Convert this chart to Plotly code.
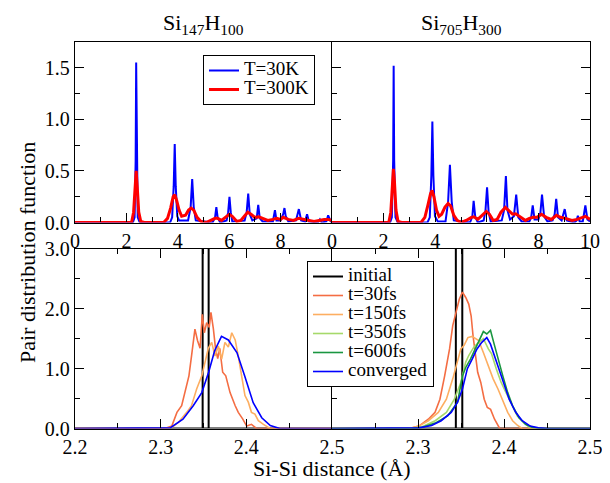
import plotly.graph_objects as go

FONT = "Liberation Serif, Times New Roman, serif"

# ---------------- data ----------------
# Top panels: pair distribution function, x = r (Angstrom)
si147_t30 = [(0, 0), (2.25, 0), (2.32, 0.05), (2.36, 0.60), (2.38, 1.55), (2.40, 0.60), (2.44, 0.05), (2.52, 0),
             (3.70, 0), (3.78, 0.05), (3.84, 0.35), (3.88, 0.76), (3.92, 0.35), (3.98, 0.06), (4.05, 0.02),
             (4.40, 0.02), (4.50, 0.15), (4.56, 0.42), (4.62, 0.15), (4.70, 0.02), (5.35, 0), (5.45, 0.05),
             (5.50, 0.15), (5.55, 0.05), (5.65, 0), (5.90, 0.02), (5.96, 0.10), (6.01, 0.25), (6.06, 0.10),
             (6.12, 0.01), (6.60, 0.02), (6.68, 0.10), (6.74, 0.28), (6.80, 0.08), (6.90, 0.02), (7.07, 0.04),
             (7.13, 0.17), (7.19, 0.04), (7.30, 0.01), (7.70, 0.01), (7.78, 0.12), (7.84, 0.02), (8.00, 0.02),
             (8.10, 0.08), (8.15, 0.14), (8.20, 0.06), (8.30, 0.01), (8.60, 0.02), (8.71, 0.13), (8.80, 0.02),
             (8.95, 0.01), (9.03, 0.08), (9.10, 0.01), (9.45, 0), (9.53, 0.03), (9.60, 0), (9.78, 0.01),
             (9.85, 0.07), (9.95, 0.01), (10.0, 0)]
si147_t300 = [(0, 0), (2.20, 0), (2.28, 0.10), (2.34, 0.35), (2.38, 0.50), (2.42, 0.35), (2.48, 0.10), (2.56, 0.01),
              (2.70, 0), (3.45, 0), (3.60, 0.04), (3.72, 0.14), (3.82, 0.25), (3.88, 0.27), (3.95, 0.22),
              (4.05, 0.12), (4.15, 0.06), (4.30, 0.07), (4.42, 0.12), (4.52, 0.14), (4.62, 0.12), (4.75, 0.05),
              (4.90, 0.01), (5.10, 0.0), (5.30, 0.02), (5.45, 0.04), (5.55, 0.04), (5.70, 0.02), (5.85, 0.05),
              (6.00, 0.08), (6.12, 0.06), (6.30, 0.01), (6.45, 0.02), (6.60, 0.07), (6.72, 0.10), (6.85, 0.08),
              (7.00, 0.05), (7.15, 0.055), (7.30, 0.04), (7.50, 0.02), (7.70, 0.03), (7.85, 0.04), (8.00, 0.03),
              (8.10, 0.05), (8.30, 0.03), (8.50, 0.02), (8.70, 0.04), (8.90, 0.03), (9.10, 0.02), (9.30, 0.01),
              (9.50, 0.02), (9.70, 0.03), (9.85, 0.03), (10.0, 0.02)]
si705_t30 = [(0, 0), (2.25, 0), (2.32, 0.05), (2.37, 0.60), (2.39, 1.52), (2.41, 0.60), (2.46, 0.05), (2.55, 0),
             (3.70, 0), (3.79, 0.05), (3.85, 0.45), (3.89, 0.98), (3.93, 0.45), (3.99, 0.06), (4.10, 0.01),
             (4.40, 0.01), (4.50, 0.20), (4.57, 0.56), (4.64, 0.20), (4.72, 0.02), (5.35, 0), (5.44, 0.06),
             (5.49, 0.21), (5.55, 0.06), (5.65, 0), (5.88, 0.02), (5.95, 0.12), (6.01, 0.34), (6.07, 0.10),
             (6.15, 0.01), (6.58, 0.02), (6.67, 0.12), (6.74, 0.45), (6.80, 0.12), (6.90, 0.03), (7.05, 0.06),
             (7.14, 0.27), (7.22, 0.05), (7.35, 0.01), (7.65, 0.01), (7.72, 0.05), (7.78, 0.165), (7.85, 0.03),
             (8.00, 0.03), (8.08, 0.10), (8.14, 0.27), (8.22, 0.06), (8.35, 0.01), (8.55, 0.02), (8.63, 0.08),
             (8.69, 0.23), (8.76, 0.05), (8.90, 0.02), (9.02, 0.13), (9.10, 0.02), (9.40, 0), (9.48, 0.02),
             (9.53, 0.065), (9.60, 0.01), (9.72, 0.01), (9.82, 0.165), (9.90, 0.03), (10.0, 0.01)]
si705_t300 = [(0, 0), (2.20, 0), (2.28, 0.10), (2.34, 0.38), (2.38, 0.52), (2.42, 0.40), (2.48, 0.12), (2.56, 0.01),
              (2.70, 0), (3.45, 0), (3.60, 0.05), (3.72, 0.17), (3.82, 0.28), (3.88, 0.31), (3.95, 0.25),
              (4.05, 0.12), (4.15, 0.06), (4.25, 0.08), (4.38, 0.15), (4.50, 0.185), (4.60, 0.16), (4.72, 0.07),
              (4.85, 0.02), (5.00, 0.0), (5.20, 0.02), (5.40, 0.05), (5.50, 0.055), (5.65, 0.03), (5.82, 0.07),
              (5.98, 0.107), (6.10, 0.08), (6.25, 0.02), (6.40, 0.03), (6.55, 0.10), (6.72, 0.146), (6.88, 0.11),
              (7.00, 0.08), (7.12, 0.085), (7.30, 0.05), (7.50, 0.02), (7.65, 0.04), (7.80, 0.05), (7.95, 0.05),
              (8.12, 0.08), (8.30, 0.05), (8.50, 0.03), (8.70, 0.07), (8.85, 0.05), (9.05, 0.04), (9.30, 0.02),
              (9.50, 0.03), (9.70, 0.05), (9.82, 0.06), (10.0, 0.03)]

# Bottom panels: first-neighbour peak, x = Si-Si distance (Angstrom)
initial_height = 20.0
si147_initial_peaks = [2.349, 2.356]
si705_initial_peaks = [2.344, 2.3515]

si147_t30fs = [(2.2, 0), (2.305, 0), (2.313, 0.04), (2.319, 0.27), (2.3245, 0.38), (2.328, 0.57), (2.333, 0.88),
               (2.336, 1.21), (2.340, 1.66), (2.343, 1.47), (2.346, 1.34), (2.3486, 1.91), (2.351, 1.60),
               (2.3537, 1.77), (2.3567, 1.69), (2.3587, 1.94), (2.3615, 1.67), (2.364, 1.34), (2.3666, 1.17),
               (2.369, 1.34), (2.3724, 0.94), (2.376, 0.88), (2.381, 0.60), (2.387, 0.38), (2.3906, 0.27),
               (2.3957, 0.16), (2.4004, 0.04), (2.406, 0.07), (2.412, 0), (2.5, 0)]
si147_t150fs = [(2.2, 0), (2.31, 0), (2.315, 0.04), (2.3206, 0.10), (2.3304, 0.27), (2.336, 0.38), (2.342, 0.66),
                (2.348, 0.88), (2.3517, 1.10), (2.3556, 1.34), (2.3596, 1.44), (2.3634, 1.21), (2.3673, 1.38),
                (2.3712, 1.16), (2.375, 1.44), (2.379, 1.36), (2.383, 1.60), (2.387, 1.48), (2.3906, 1.21),
                (2.3945, 0.88), (2.3984, 0.55), (2.4023, 0.44), (2.406, 0.27), (2.410, 0.24), (2.414, 0.13),
                (2.420, 0.07), (2.4276, 0), (2.5, 0)]
si147_conv = [(2.2, 0), (2.30, 0), (2.311, 0.01), (2.326, 0.155), (2.338, 0.38), (2.348, 0.60), (2.356, 0.94),
              (2.363, 1.30), (2.371, 1.54), (2.379, 1.48), (2.389, 1.27), (2.398, 0.88), (2.408, 0.43),
              (2.418, 0.18), (2.428, 0.05), (2.439, 0.0), (2.5, 0)]

si705_t30fs = [(2.2, 0), (2.29, 0), (2.301, 0.04), (2.312, 0.155), (2.3198, 0.27), (2.3255, 0.49), (2.331, 0.88),
               (2.3367, 1.33), (2.3404, 1.72), (2.3443, 1.94), (2.348, 2.16), (2.3517, 2.28), (2.3555, 2.19),
               (2.359, 2.08), (2.3618, 1.88), (2.364, 1.55), (2.3668, 1.22), (2.3694, 0.94), (2.373, 0.77),
               (2.377, 0.49), (2.3806, 0.35), (2.3844, 0.32), (2.389, 0.155), (2.395, 0), (2.5, 0)]
si705_t150fs = [(2.2, 0), (2.29, 0), (2.301, 0.04), (2.312, 0.13), (2.3236, 0.27), (2.333, 0.49), (2.3404, 0.83),
                (2.346, 1.11), (2.3498, 1.33), (2.3536, 1.39), (2.358, 1.52), (2.3629, 1.54), (2.3667, 1.50),
                (2.3705, 1.47), (2.376, 1.27), (2.3818, 1.05), (2.3874, 0.83), (2.393, 0.66), (2.3986, 0.46),
                (2.4043, 0.27), (2.41, 0.13), (2.4155, 0.055), (2.421, 0), (2.5, 0)]
si705_t350fs = [(2.2, 0), (2.29, 0), (2.3048, 0.03), (2.32, 0.13), (2.333, 0.27), (2.3423, 0.49), (2.3498, 0.77),
                (2.3555, 1.11), (2.359, 1.22), (2.3649, 1.36), (2.3705, 1.44), (2.376, 1.50), (2.3818, 1.33),
                (2.3855, 1.25), (2.391, 1.00), (2.3967, 0.77), (2.4024, 0.60), (2.408, 0.44), (2.4155, 0.21),
                (2.423, 0.10), (2.4287, 0.03), (2.436, 0), (2.5, 0)]
si705_t600fs = [(2.2, 0), (2.29, 0), (2.305, 0.02), (2.32, 0.09), (2.3345, 0.21), (2.346, 0.44), (2.3517, 0.88),
                (2.3555, 1.02), (2.361, 1.16), (2.3667, 1.33), (2.3724, 1.52), (2.376, 1.62), (2.38, 1.58),
                (2.3843, 1.64), (2.388, 1.44), (2.393, 1.16), (2.3986, 0.88), (2.4043, 0.60), (2.41, 0.38),
                (2.4174, 0.18), (2.425, 0.07), (2.4324, 0.02), (2.4437, 0), (2.5, 0)]
si705_conv = [(2.2, 0), (2.29, 0), (2.301, 0.01), (2.3158, 0.05), (2.327, 0.13), (2.3386, 0.27), (2.346, 0.44),
              (2.3517, 0.66), (2.3574, 1.00), (2.363, 1.16), (2.3686, 1.33), (2.3742, 1.44), (2.38, 1.52),
              (2.3843, 1.41), (2.389, 1.22), (2.395, 0.97), (2.4006, 0.72), (2.406, 0.49), (2.4136, 0.27),
              (2.4212, 0.13), (2.4305, 0.04), (2.44, 0.01), (2.451, 0), (2.5, 0)]

top_titles = ["Si<sub>147</sub>H<sub>100</sub>", "Si<sub>705</sub>H<sub>300</sub>"]
temp_labels = ["T=30K", "T=300K"]
time_labels = ["initial", "t=30fs", "t=150fs", "t=350fs", "t=600fs", "converged"]
time_colors = ["#000000", "#f46d43", "#fdae61", "#a6d96a", "#1a9641", "#0000ff"]
top_xticks_left = [0, 2, 4, 6, 8]
top_xticks_right = [0, 2, 4, 6, 8, 10]
top_yticks = [0, 0.5, 1.0, 1.5]
top_yticktext = ["0.0", "0.5", "1.0", "1.5"]
bot_xticks_left = [2.2, 2.3, 2.4, 2.5]
bot_xticks_right = [2.3, 2.4, 2.5]
bot_yticks = [0, 1, 2, 3]
bot_yticktext = ["0.0", "1.0", "2.0", "3.0"]

# ---------------- figure ----------------
# the page body has an 8px margin, so the figure is drawn 8px in from the window's corner
OFF = 8
W, H = 610 - OFF, 483 - OFF


def px(x):
    return (x - OFF) / W


def py(y):
    return 1 - (y - OFF) / H


XL = [px(75), px(332)]
XR = [px(332), px(590)]
YT = [py(222.5), py(42)]
YB = [py(428.5), py(249)]


def xs(pts):
    return [p[0] for p in pts]


def ys(pts):
    return [p[1] for p in pts]


def initial_trace(peaks):
    x, y = [2.2], [0]
    for p in peaks:
        x += [p, p, p]
        y += [0, initial_height, 0]
    x.append(2.5)
    y.append(0)
    return x, y


def leg(txt):
    return '<span style="font-size:19px">' + txt + '</span>'


fig = go.Figure()

# top panels
for (t30, t300, xa, ya, show) in [(si147_t30, si147_t300, "x", "y", True),
                                   (si705_t30, si705_t300, "x2", "y2", False)]:
    fig.add_trace(go.Scatter(x=xs(t30), y=ys(t30), mode="lines", xaxis=xa, yaxis=ya,
                             line=dict(color="#0000ff", width=2), name=leg(temp_labels[0]),
                             showlegend=show, legend="legend"))
    fig.add_trace(go.Scatter(x=xs(t300), y=ys(t300), mode="lines", xaxis=xa, yaxis=ya,
                             line=dict(color="#ff0000", width=3), name=leg(temp_labels[1]),
                             showlegend=show, legend="legend"))

# bottom-left (Si147H100)
ix, iy = initial_trace(si147_initial_peaks)
left_series = [(ix, iy), (xs(si147_t30fs), ys(si147_t30fs)), (xs(si147_t150fs), ys(si147_t150fs)),
               None, None, (xs(si147_conv), ys(si147_conv))]
for i, s in enumerate(left_series):
    if s is None:
        continue
    fig.add_trace(go.Scatter(x=s[0], y=s[1], mode="lines", xaxis="x3", yaxis="y3",
                             line=dict(color=time_colors[i], width=2 if i == 0 else 1.6),
                             showlegend=False, name=time_labels[i]))

# bottom-right (Si705H300)
ix, iy = initial_trace(si705_initial_peaks)
right_series = [(ix, iy), (xs(si705_t30fs), ys(si705_t30fs)), (xs(si705_t150fs), ys(si705_t150fs)),
                (xs(si705_t350fs), ys(si705_t350fs)), (xs(si705_t600fs), ys(si705_t600fs)),
                (xs(si705_conv), ys(si705_conv))]
for i, s in enumerate(right_series):
    fig.add_trace(go.Scatter(x=s[0], y=s[1], mode="lines", xaxis="x4", yaxis="y4",
                             line=dict(color=time_colors[i], width=2 if i == 0 else 1.6),
                             showlegend=True, legend="legend2", name=leg(time_labels[i])))

tickfont = dict(family=FONT, size=20, color="black")


def axis(**kw):
    d = dict(showline=True, linecolor="black", linewidth=1.3, ticks="inside", ticklen=9,
             tickcolor="black", tickwidth=1.2, showgrid=False, zeroline=False, tickfont=tickfont,
             automargin=False, fixedrange=True)
    d.update(kw)
    return d


def minor(dt, t0):
    return dict(dtick=dt, tick0=t0, ticklen=5, ticks="inside", tickcolor="black", tickwidth=1.2,
                showgrid=False)


fig.update_layout(
    template="none",
    width=W, height=H, margin=dict(l=0, r=0, t=0, b=0, pad=0, autoexpand=False),
    paper_bgcolor="white", plot_bgcolor="white",
    font=dict(family=FONT, color="black", size=20),
    showlegend=True,
    xaxis=axis(domain=XL, range=[0, 10], anchor="y", tickmode="array", tickvals=top_xticks_left,
               mirror=True, minor=minor(1, 0)),
    yaxis=axis(domain=YT, range=[0, 1.75], anchor="x", tickmode="array", tickvals=top_yticks,
               ticktext=top_yticktext, mirror=False, minor=minor(0.25, 0)),
    xaxis2=axis(domain=XR, range=[0, 10], anchor="y2", tickmode="array", tickvals=top_xticks_right,
                mirror=True, minor=minor(1, 0)),
    yaxis2=axis(domain=YT, range=[0, 1.75], anchor="x2", tickmode="array", tickvals=top_yticks,
                showticklabels=False, mirror="ticks", minor=minor(0.25, 0)),
    xaxis3=axis(domain=XL, range=[2.2, 2.5], anchor="y3", tickmode="array", tickvals=bot_xticks_left,
                ticktext=[f"{v:.1f}" for v in bot_xticks_left], mirror="ticks", minor=minor(0.05, 2.2)),
    yaxis3=axis(domain=YB, range=[0, 3], anchor="x3", tickmode="array", tickvals=bot_yticks,
                ticktext=bot_yticktext, mirror=False, minor=minor(0.5, 0)),
    xaxis4=axis(domain=XR, range=[2.2, 2.5], anchor="y4", tickmode="array", tickvals=bot_xticks_right,
                ticktext=[f"{v:.1f}" for v in bot_xticks_right], mirror="ticks", minor=minor(0.05, 2.2)),
    yaxis4=axis(domain=YB, range=[0, 3], anchor="x4", tickmode="array", tickvals=bot_yticks,
                showticklabels=False, mirror="ticks", minor=minor(0.5, 0)),
    legend=dict(x=px(203), y=py(55), xanchor="left", yanchor="top", bgcolor="white",
                bordercolor="black", borderwidth=1, font=dict(family=FONT, size=12, color="black"),
                tracegroupgap=0),
    legend2=dict(x=px(307), y=py(261), xanchor="left", yanchor="top", bgcolor="white",
                 bordercolor="black", borderwidth=1, font=dict(family=FONT, size=12, color="black"),
                 tracegroupgap=0),
    annotations=[
        dict(text=top_titles[0], x=(XL[0] + XL[1]) / 2, y=py(24), xref="paper", yref="paper",
             showarrow=False, xanchor="center", yanchor="middle", font=dict(family=FONT, size=22)),
        dict(text=top_titles[1], x=(XR[0] + XR[1]) / 2, y=py(24), xref="paper", yref="paper",
             showarrow=False, xanchor="center", yanchor="middle", font=dict(family=FONT, size=22)),
        dict(text="Pair distribution function", x=px(27), y=py(253), xref="paper", yref="paper",
             showarrow=False, textangle=-90, xanchor="center", yanchor="middle",
             font=dict(family=FONT, size=22)),
        dict(text="Si-Si distance (Å)", x=px(332), y=py(468), xref="paper", yref="paper",
             showarrow=False, xanchor="center", yanchor="middle", font=dict(family=FONT, size=22)),
    ],
)

fig.write_html("out.html")
